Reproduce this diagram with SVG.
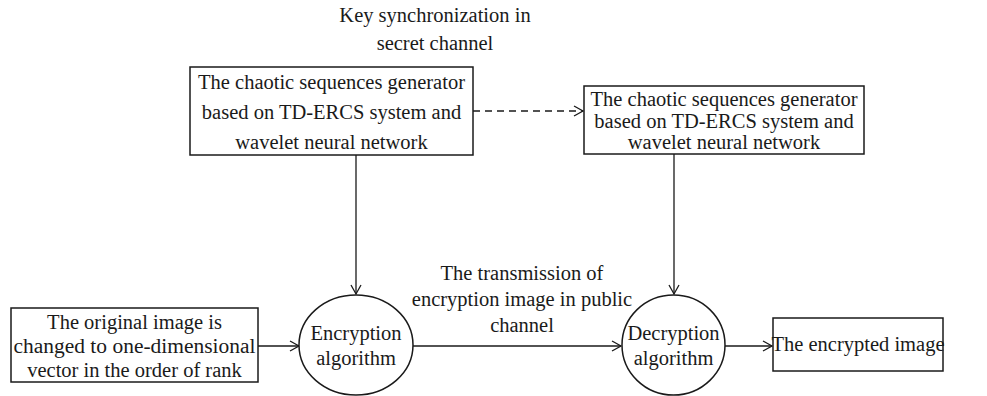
<svg xmlns="http://www.w3.org/2000/svg" width="987" height="396" viewBox="0 0 987 396">
<defs>
<style>
text{font-family:"Liberation Serif","DejaVu Serif",serif;font-size:20.5px;fill:#1a1a1a;text-anchor:middle}
.box{fill:#fff;stroke:#1a1a1a;stroke-width:1.5}
.ln{fill:none;stroke:#1a1a1a;stroke-width:1.3}
.dash{stroke-dasharray:7 5}
</style>
<marker id="ah" markerWidth="12" markerHeight="12" refX="10" refY="6" orient="auto" markerUnits="userSpaceOnUse">
<path d="M1,1 L10,6 L1,11" fill="none" stroke="#1a1a1a" stroke-width="1.3"/>
</marker>
</defs>
<rect width="987" height="396" fill="#fff"/>
<g id="connectors">
<line class="ln dash" x1="473" y1="111" x2="583" y2="111" marker-end="url(#ah)"/>
<line class="ln" x1="356" y1="155" x2="356" y2="294" marker-end="url(#ah)"/>
<line class="ln" x1="674" y1="154" x2="674" y2="294" marker-end="url(#ah)"/>
<line class="ln" x1="258" y1="346" x2="299" y2="346" marker-end="url(#ah)"/>
<line class="ln" x1="413" y1="346" x2="621" y2="346" marker-end="url(#ah)"/>
<line class="ln" x1="725" y1="346" x2="772" y2="346" marker-end="url(#ah)"/>
</g>
<g id="label-key">
<text x="435" y="22">Key synchronization in</text>
<text x="435" y="50">secret channel</text>
</g>
<g id="label-transmission">
<text x="522" y="280">The transmission of</text>
<text x="522" y="306">encryption image in public</text>
<text x="522" y="332">channel</text>
</g>
<g id="gen1">
<rect class="box" x="190" y="67" width="283" height="88"/>
<text x="331.5" y="89">The chaotic sequences generator</text>
<text x="331.5" y="119">based on TD-ERCS system and</text>
<text x="331.5" y="149">wavelet neural network</text>
</g>
<g id="gen2">
<rect class="box" x="584" y="86" width="280" height="68"/>
<text x="724" y="106">The chaotic sequences generator</text>
<text x="724" y="128">based on TD-ERCS system and</text>
<text x="724" y="149">wavelet neural network</text>
</g>
<g id="original">
<rect class="box" x="11" y="308" width="247" height="74"/>
<text x="134.5" y="329">The original image is</text>
<text x="134.5" y="353" textLength="242" lengthAdjust="spacingAndGlyphs">changed to one-dimensional</text>
<text x="134.5" y="377">vector in the order of rank</text>
</g>
<g id="encryption">
<ellipse class="box" cx="356" cy="345" rx="57" ry="50"/>
<text x="356" y="340">Encryption</text>
<text x="356" y="365">algorithm</text>
</g>
<g id="decryption">
<ellipse class="box" cx="673.5" cy="345" rx="51.5" ry="50"/>
<text x="673.5" y="340">Decryption</text>
<text x="673.5" y="365">algorithm</text>
</g>
<g id="result">
<rect class="box" x="773" y="318" width="170" height="53"/>
<text x="858" y="351">The encrypted image</text>
</g>
</svg>
